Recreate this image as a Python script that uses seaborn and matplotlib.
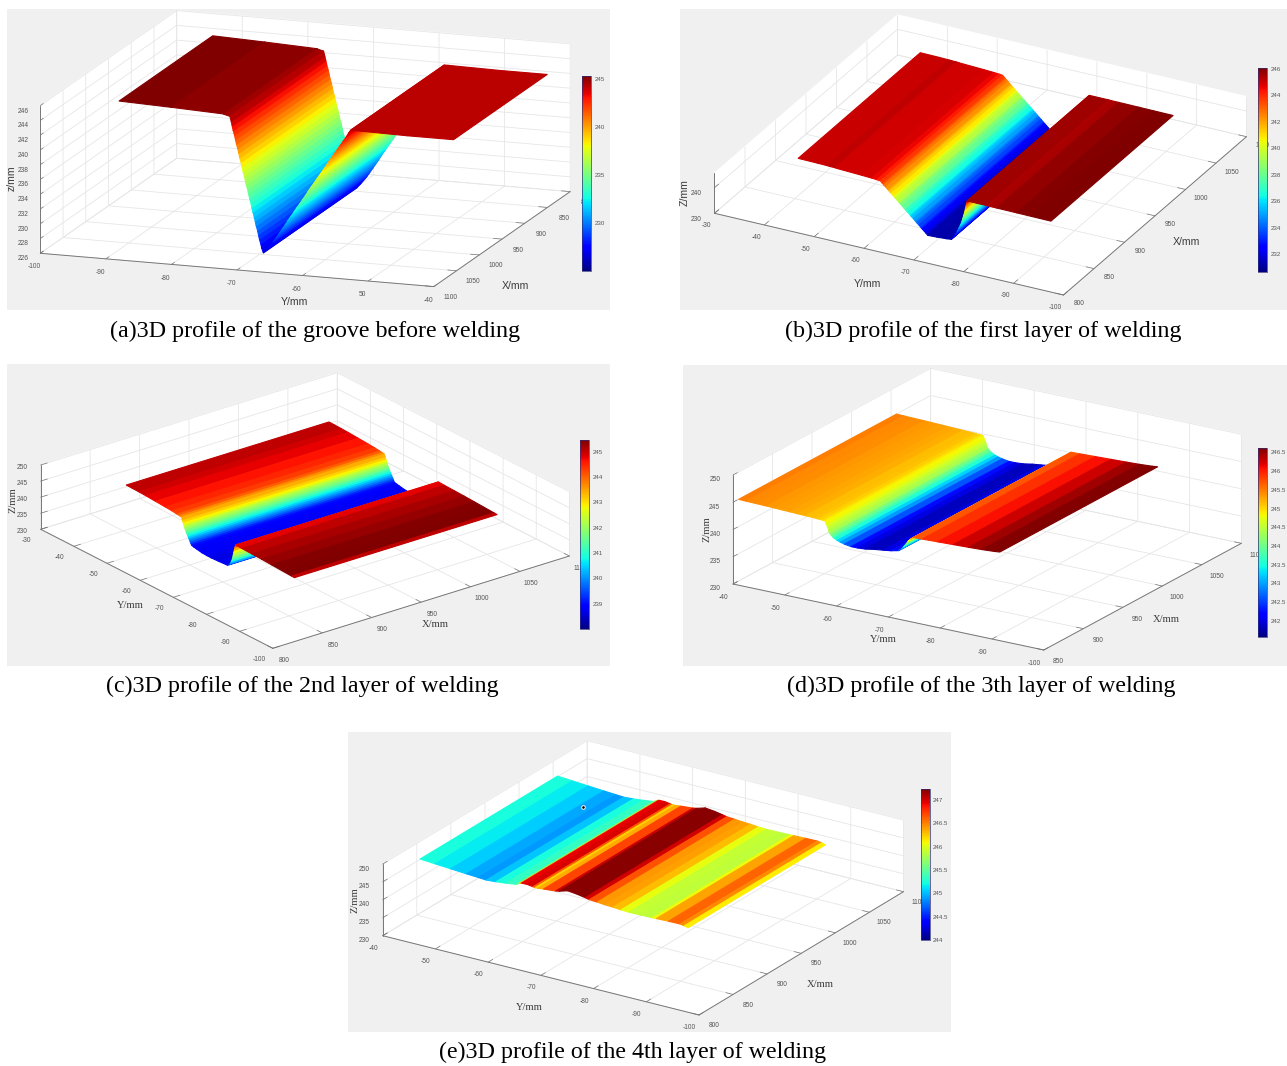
import numpy as np
import matplotlib
matplotlib.use("Agg")
import matplotlib.pyplot as plt
import seaborn as sns
from matplotlib.cm import ScalarMappable
from matplotlib.colors import Normalize
from matplotlib.lines import Line2D
from matplotlib.patches import Rectangle

W, H = 1287, 1066

# cross sections of the plate: position along Y, height, value the colour shows
Y_A = [-90.9, -83, -82.9, -75, -74.9, -74.0, -73.8, -73.65, -73.5, -73.3, -73.15, -73.0, -72.8, -72.65, -72.5,
       -72.3, -72.15, -72.0, -71.8, -71.65, -71.5, -71.3, -71.15, -71.0, -70.8, -70.65, -70.5, -70.3, -70.15,
       -70.0, -69.8, -69.65, -69.5, -69.3, -69.15, -68.9, -68.3, -67.4, -66.95, -66.5, -66.05, -65.6, -65.2,
       -64.75, -64.3, -63.85, -63.4, -62.95, -62.5, -62.1, -61.65, -61.2, -60.75, -60.3, -59.85, -59.4, -59.0,
       -58.55, -58.1, -57.65, -57.2, -56.75, -56.3, -55.9, -55.6, -55.0, -47, -39.9]
Z_A = [245.5, 245.25, 245.25, 244.95, 244.9, 244.7, 244.0, 243.4, 242.8, 242.2, 241.6, 241.0, 240.4, 239.8, 239.2,
       238.6, 238.0, 237.4, 236.8, 236.2, 235.6, 235.0, 234.4, 233.8, 233.2, 232.6, 232.0, 231.4, 230.8,
       230.2, 229.6, 229.0, 228.4, 227.8, 227.2, 226.6, 227.2, 228.2, 228.8, 229.4, 230.0, 230.6, 231.2,
       231.8, 232.4, 233.0, 233.6, 234.2, 234.8, 235.4, 236.0, 236.6, 237.2, 237.8, 238.4, 239.0, 239.6,
       240.2, 240.8, 241.4, 242.0, 242.6, 243.2, 243.8, 244.2, 244.2, 244.1, 244.1]
C_A = [245.3, 245.3, 245.0, 245.0, 244.7, 244.7, 244.0, 243.4, 242.8, 242.2, 241.6, 241.0, 240.4, 239.8, 239.2,
       238.6, 238.0, 237.4, 236.8, 236.2, 235.6, 235.0, 234.4, 233.8, 233.2, 232.6, 232.0, 231.4, 230.8,
       230.2, 229.6, 229.0, 228.4, 227.8, 227.2, 226.6, 227.2, 228.2, 228.8, 229.4, 230.0, 230.6, 231.2,
       231.8, 232.4, 233.0, 233.6, 234.2, 234.8, 235.4, 236.0, 236.6, 237.2, 237.8, 238.4, 239.0, 239.6,
       240.2, 240.8, 241.4, 242.0, 242.6, 243.2, 243.8, 244.2, 244.2, 244.2, 244.2]

Y_B = [-40.2, -44, -46.0, -46.5, -47.5, -48, -53, -55, -56, -56.7, -57.05, -57.4, -57.8, -58.15, -58.5, -58.9,
       -59.25, -59.6, -60.0, -60.35, -60.7, -61.1, -61.45, -61.8, -62.2, -62.55, -62.9, -63.3, -63.65, -64.0,
       -64.4, -64.75, -65.1, -65.5, -65.85, -66.2, -68, -70, -70.9, -71.4, -71.8, -72.1, -72.4, -72.7, -73.0,
       -73.2, -73.4, -73.6, -73.75, -73.9, -74.0, -74.1, -76, -78, -78.6, -80, -84, -87, -90.9]
Z_B = [245.0, 244.9, 244.8, 244.75, 244.7, 244.6, 244.2, 244.0, 243.85, 243.7, 243.05, 242.4, 241.75, 241.1,
       240.45, 239.8, 239.15, 238.5, 237.85, 237.2, 236.55, 235.9, 235.25, 234.6, 233.95, 233.3, 232.65, 232.0,
       231.35, 230.7, 230.05, 229.4, 228.75, 228.1, 227.45, 226.8, 226.95, 227.2, 227.4, 228.5, 229.8, 231.0,
       232.3, 233.6, 235.0, 236.4, 237.8, 239.2, 240.6, 242.0, 243.0, 243.8, 243.8, 243.8, 243.75, 243.75, 243.7,
       243.65, 243.6]
C_B = [245.1, 245.05, 245.05, 245.25, 245.05, 244.95, 244.95, 244.75, 244.4, 244.0, 243.5, 243.0, 242.5, 242.05, 241.55,
       241.05, 240.6, 240.1, 239.6, 239.15, 238.65, 238.15, 237.7, 237.2, 236.7, 236.25, 235.75, 235.25, 234.8,
       234.3, 233.8, 233.35, 232.85, 232.35, 231.9, 231.4, 231.2, 231.2, 231.4, 232.0, 232.8, 233.6, 234.6, 235.6,
       236.6, 237.8, 239.0, 240.2, 241.4, 242.6, 243.8, 245.6, 245.6, 245.6, 245.2, 245.7, 245.9, 246.0, 246.05]

Y_C = [-41.2, -43, -45, -47, -50, -53, -55, -56.5, -57.3, -57.9, -58.1, -58.3, -58.5, -58.7, -58.9, -59.1, -59.3,
       -59.5, -59.7, -59.9, -60.1, -60.3, -60.5, -60.7, -60.9, -61.5, -62.5, -64, -65.5, -67, -69, -71.6, -72.2,
       -72.6, -72.9, -73.2, -73.4, -73.6, -73.8, -74.0, -74.2, -76, -79, -82, -85, -88, -91, -91.9]
Z_C = [245.0, 244.95, 244.9, 244.8, 244.6, 244.4, 244.25, 244.05, 243.95, 243.8, 243.2, 242.6, 242.0, 241.4, 240.9,
       240.4, 239.9, 239.5, 239.1, 238.7, 238.3, 237.9, 237.5, 237.1, 236.7, 236.5, 236.3, 236.0, 235.9, 235.9,
       236.0, 236.2, 236.6, 237.2, 238.0, 238.9, 239.9, 241.0, 242.0, 243.0, 243.8, 243.7, 243.6, 243.5, 243.35,
       243.2, 243.05, 243.0]
C_C = [245.0, 245.05, 245.0, 244.85, 244.7, 244.55, 244.4, 244.2, 243.9, 243.5, 243.3, 243.0, 242.7, 242.4, 242.1,
       241.8, 241.5, 241.2, 240.9, 240.6, 240.3, 240.0, 239.7, 239.4, 239.1, 238.9, 238.8, 238.8, 238.8, 238.7,
       238.6, 238.9, 239.2, 239.9, 240.6, 241.3, 241.9, 242.5, 243.1, 243.8, 244.6, 245.0, 245.1, 245.25, 245.35,
       245.46, 245.46, 244.6]

Y_D = [-40.6, -42, -44, -46, -47.5, -49, -50.5, -52, -53.5, -55, -56, -56.8, -57.3, -57.5, -57.7, -57.9, -58.1,
       -58.4, -58.7, -59, -59.6, -60.2, -61, -62.3, -63.5, -65, -66.8, -68.5, -70, -71.4, -72, -72.4, -72.9,
       -73.3, -73.8, -74.3, -76, -79, -82, -85, -87.5, -90, -91]
Z_D = [245.4, 245.35, 245.3, 245.25, 245.2, 245.15, 245.1, 245.05, 245.0, 244.95, 244.9, 244.85, 244.8, 244.3,
       243.9, 243.4, 242.8, 242.5, 242.2, 242.0, 241.7, 241.5, 241.3, 241.1, 241.1, 241.2, 241.5, 241.7, 241.9,
       242.2, 242.6, 243.1, 243.7, 244.3, 244.8, 245.2, 245.25, 245.35, 245.45, 245.55, 245.65, 245.8, 245.9]
C_D = [245.5, 245.45, 245.4, 245.4, 245.3, 245.35, 245.25, 245.3, 245.15, 245.15, 245.1, 245.0, 244.9, 244.75,
       244.6, 244.45, 244.3, 244.1, 243.9, 243.7, 243.4, 243.1, 242.8, 242.4, 242.1, 241.9, 241.8, 241.9, 242.1,
       242.4, 242.8, 243.3, 243.9, 244.5, 245.0, 245.6, 245.8, 246.0, 246.15, 246.4, 246.55, 246.62, 246.62]

Y_E = [-40.2, -43, -46, -49, -51.25, -52.75, -54.6, -56.5, -58.4, -59.1, -59.4, -60.5, -61.6, -62, -62.5, -63.6,
       -65.9, -66.6, -68.2, -70, -71.5, -72.3, -73.8, -75.3, -76.8, -78.3, -79.8, -82, -84.3, -85, -87.3, -89.5,
       -90.3, -91]
Z_E = [245.35, 245.05, 244.75, 244.45, 244.25, 244.1, 244.3, 244.6, 245.0, 245.5, 245.7, 245.75, 245.5, 245.4,
       245.4, 245.6, 245.9, 246.1, 246.8, 246.5, 246.1, 245.85, 245.7, 245.5, 245.4, 245.2, 245.1, 245.15, 245.2,
       245.25, 245.35, 245.4, 245.2, 244.9]
C_E = [245.26, 245.2, 245.1, 245.0, 244.87, 244.9, 245.16, 245.3, 245.36, 245.7, 246.9, 246.97, 246.97, 246.3,
       246.13, 246.58, 246.84, 247.2, 247.2, 247.2, 247.2, 246.8, 246.5, 246.33, 246.45, 246.13, 245.94, 245.87,
       245.87, 246.26, 246.5, 246.68, 246.26, 246.0]

CAPTIONS = ["(a)3D profile of the groove before welding", "(b)3D profile of the first layer of welding",
            "(c)3D profile of the 2nd layer of welding", "(d)3D profile of the 3th layer of welding",
            "(e)3D profile of the 4th layer of welding"]

XT_800 = [800, 850, 900, 950, 1000, 1050, 1100]
XT_850 = [850, 900, 950, 1000, 1050, 1100]
YT_A = [-100, -90, -80, -70, -60, -50, -40]
YL_A = ["-100", "-90", "-80", "-70", "-60", "50", "-40"]
YT_30 = [-100, -90, -80, -70, -60, -50, -40, -30]
ZT_A = [226, 228, 230, 232, 234, 236, 238, 240, 242, 244, 246]
ZT_B = [230, 240]
ZT_5 = [230, 235, 240, 245, 250]
CT_A = [225, 230, 235, 240, 245]
CT_B = [232, 234, 236, 238, 240, 242, 244, 246]
CT_C = [239, 240, 241, 242, 243, 244, 245]
CT_D = [242, 242.5, 243, 243.5, 244, 244.5, 245, 245.5, 246, 246.5]
CT_E = [244, 244.5, 245, 245.5, 246, 246.5, 247]

# layout is in image pixels: grey panel, box corner at (xmin, ymin, zmin), edge vectors of the box
PANELS = [
    dict(y=Y_A, z=Z_A, c=C_A, xs=(852, 1058), xlim=(800, 1100), ylim=(-100, -40), zlim=(226, 246),
         clim=(225.07, 245.3), xt=XT_800, yt=YT_A, yl=YL_A, zt=ZT_A, ct=CT_A,
         panel=(7, 9, 610, 310), cbar=(582, 76, 591, 271), org=(176.7, 158.3),
         ax=(-136.4, 95), ay=(393.5, 33.3), az=(0, -147.7), font="Liberation Sans",
         lx=(515, 286), ly=(294.6, 301.7), lz=(12, 178), zname="z/mm", cap=(315, 331)),
    dict(y=Y_B, z=Z_B, c=C_B, xs=(853.8, 1054), xlim=(800, 1100), ylim=(-100, -30), zlim=(230, 245.6),
         clim=(230.65, 246.05), xt=XT_800, yt=YT_30, yl=None, zt=ZT_B, ct=CT_B,
         panel=(680, 9, 1287, 310), cbar=(1258, 68, 1267, 272), org=(1063.5, 295),
         ax=(183, -158.3), ay=(-349, -81.7), az=(0, -40), font="Liberation Sans",
         lx=(1186.7, 241.7), ly=(867.9, 284), lz=(685, 192.7), zname="Z/mm", cap=(983, 331)),
    dict(y=Y_C, z=Z_C, c=C_C, xs=(849, 1054), xlim=(800, 1100), ylim=(-100, -30), zlim=(230, 250),
         clim=(238.0, 245.46), xt=XT_800, yt=YT_30, yl=None, zt=ZT_5, ct=CT_C,
         panel=(7, 364, 610, 666), cbar=(580, 440, 589, 629), org=(272.8, 648.3),
         ax=(296.6, -92.3), ay=(-232.1, -119), az=(0, -64.3), font="Liberation Serif",
         lx=(435, 624.3), ly=(130.5, 606), lz=(13, 500), zname="Z/mm", cap=(302, 686)),
    dict(y=Y_D, z=Z_D, c=C_D, xs=(853.3, 1053), xlim=(850, 1100), ylim=(-100, -40), zlim=(230, 250),
         clim=(241.56, 246.62), xt=XT_850, yt=YT_A, yl=None, zt=ZT_5, ct=CT_D,
         panel=(683, 365, 1287, 666), cbar=(1258, 448, 1267, 637), org=(1043.8, 650),
         ax=(197.6, -106.7), ay=(-310.8, -66), az=(0, -109), font="Liberation Serif",
         lx=(1165.8, 620), ly=(883.7, 639), lz=(707.4, 529), zname="Z/mm", cap=(981, 686)),
    dict(y=Y_E, z=Z_E, c=C_E, xs=(853.4, 1055), xlim=(800, 1100), ylim=(-100, -40), zlim=(230, 250),
         clim=(244.0, 247.23), xt=XT_800, yt=YT_A, yl=None, zt=ZT_5, ct=CT_E,
         panel=(348, 732, 951, 1032), cbar=(920.5, 789, 929.5, 940), org=(699, 1015),
         ax=(204.5, -123.3), ay=(-316.3, -79.3), az=(0, -71.7), font="Liberation Serif",
         lx=(820.4, 984.3), ly=(529.8, 1007), lz=(355, 900), zname="Z/mm", cap=(633, 1052)),
]


def view_from_box(ax_px, ay_px, az_px):
    # matlab box is an orthographic view, so get elev, azim and side lengths from the screen edges
    p = np.array([ax_px, ay_px, az_px], dtype=float).T
    p[1] *= -1
    A = np.array([[p[0, 0] ** 2, p[0, 1] ** 2], [p[0, 0] * p[1, 0], p[0, 1] * p[1, 1]]])
    wx, wy = np.linalg.solve(A, [1, 0])
    wz = (1 - wx * p[1, 0] ** 2 - wy * p[1, 1] ** 2) / p[1, 2] ** 2
    sides = 1 / np.sqrt([wx, wy, wz])
    look = np.cross(p[0] / sides, p[1] / sides)
    return np.degrees(np.arcsin(look[2])), np.degrees(np.arctan2(look[1], look[0])), sides


def px_rect(x0, y0, x1, y1):
    return [x0 / W, 1 - y1 / H, (x1 - x0) / W, (y1 - y0) / H]


sns.set_theme(style="white")
plt.rcParams["font.family"] = ["Liberation Sans", "DejaVu Sans"]
plt.rcParams["axes.unicode_minus"] = False
jet = plt.get_cmap("jet")

fig = plt.figure(figsize=(W / 100, H / 100), dpi=100, facecolor="white")

for p in PANELS:
    x0, y0, x1, y1 = p["panel"]
    r = px_rect(x0, y0, x1, y1)
    fig.add_artist(Rectangle((r[0], r[1]), r[2], r[3], transform=fig.transFigure, color="#F0F0F0", zorder=-5, lw=0))

    elev, azim, sides = view_from_box(p["ax"], p["ay"], p["az"])
    size = 1.85 * np.linalg.norm(sides) / (1.8294640721620434 * 25 / 24)
    centre = np.array(p["org"]) + (np.array(p["ax"]) + np.array(p["ay"]) + np.array(p["az"])) / 2
    left = centre[0] - size * 0.095 / 0.185
    top = centre[1] + size * 0.095 / 0.185
    ax = fig.add_axes(px_rect(left, top - size, left + size, top), projection="3d", proj_type="ortho", zorder=1)
    ax.set_facecolor("none")
    ax.set_box_aspect(sides)
    ax.view_init(elev=elev, azim=azim)

    norm = Normalize(*p["clim"])
    ys = np.array(p["y"])
    xg, yg = np.meshgrid(p["xs"], ys)
    zg = np.column_stack([p["z"], p["z"]])
    cv = np.array(p["c"])
    mid = np.append((cv[:-1] + cv[1:]) / 2, cv[-1])
    faces = jet(norm(np.column_stack([mid, mid])))
    ax.plot_surface(xg, yg, zg, rstride=1, cstride=1, facecolors=faces, shade=False, linewidth=0.8, antialiased=True)

    ax.set_xlim(*p["xlim"], view_margin=0)
    ax.set_ylim(*p["ylim"], view_margin=0)
    ax.set_zlim(*p["zlim"], view_margin=0)
    ax.set_xticks(p["xt"])
    if p["yl"] is None:
        ax.set_yticks(p["yt"])
    else:
        ax.set_yticks(p["yt"], p["yl"])
    ax.set_zticks(p["zt"])
    ax.tick_params(axis="x", labelsize=4.8, pad=1.2, colors="#555555")
    ax.tick_params(axis="y", labelsize=4.8, pad=1.2, colors="#555555")
    ax.tick_params(axis="z", labelsize=4.8, pad=-1, colors="#555555")
    for a in (ax.xaxis, ax.yaxis, ax.zaxis):
        a.set_pane_color("white")
        a.pane.set_edgecolor("white")
        a.line.set_color("#777777")
        a.line.set_linewidth(0.7)
        a._axinfo["grid"].update(color="#E6E6E6", linewidth=0.6)
        a._axinfo["tick"].update(inward_factor=0, outward_factor=0.28, linewidth={True: 0.5, False: 0.5})
        a._axinfo["tick"]["color"] = "#777777"
        for t in a.get_major_ticks():
            t.tick1line.set_color("#777777")
            t.tick1line.set_marker("")

    tx = [p["lx"], p["ly"], p["lz"]]
    for (tpx, tpy), name, rot in zip(tx, ["X/mm", "Y/mm", p["zname"]], [0, 0, 90]):
        fig.text(tpx / W, 1 - tpy / H, name, fontsize=7.6, family=p["font"], color="#3C3C3C",
                 ha="center", va="center", rotation=rot, zorder=5)

    cax = fig.add_axes(px_rect(*p["cbar"]), zorder=3)
    cb = fig.colorbar(ScalarMappable(norm=norm, cmap=jet), cax=cax, ticks=p["ct"])
    cb.ax.tick_params(labelsize=4.4, length=0, pad=2.5, colors="#555555")
    cb.ax.set_yticklabels([f"{v:g}" for v in p["ct"]])
    cb.outline.set_edgecolor("#30307A")
    cb.outline.set_linewidth(0.5)

for p, cap in zip(PANELS, CAPTIONS):
    fig.text(p["cap"][0] / W, 1 - p["cap"][1] / H, cap, fontsize=17.3, family="Liberation Serif", color="black",
             ha="center", va="center", zorder=5)

# small marker left on the last plot
fig.add_artist(Line2D([582.8 / W], [1 - 806.7 / H], marker="o", ms=2.6, mfc="black", mec="white", mew=0.7,
                      transform=fig.transFigure, zorder=6))

fig.savefig("out.png", dpi=100)
